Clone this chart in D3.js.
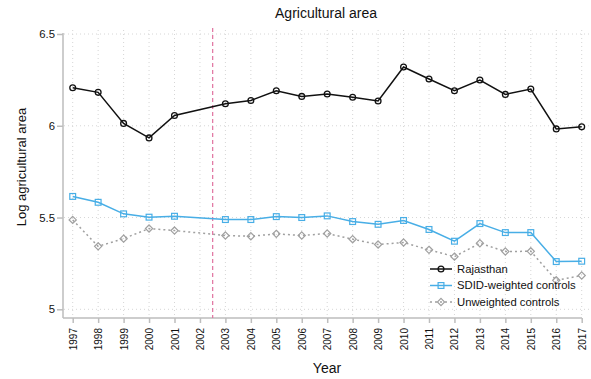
<!DOCTYPE html>
<html>
<head>
<meta charset="utf-8">
<script src="https://cdn.jsdelivr.net/npm/d3@7"></script>
<style>
  body { margin: 0; background: #fff; }
  svg { display: block; font-family: "Liberation Sans", Arial, sans-serif; }
</style>
</head>
<body>
<svg id="chart" width="591" height="379"></svg>
<script>
// Years on the x axis (2002 has no observation)
const years = [1997, 1998, 1999, 2000, 2001, 2002, 2003, 2004, 2005, 2006, 2007,
               2008, 2009, 2010, 2011, 2012, 2013, 2014, 2015, 2016, 2017];
const obsYears = [1997, 1998, 1999, 2000, 2001, 2003, 2004, 2005, 2006, 2007,
                  2008, 2009, 2010, 2011, 2012, 2013, 2014, 2015, 2016, 2017];

const rajasthan = [6.207, 6.182, 6.013, 5.934, 6.056, 6.120, 6.138, 6.191, 6.160, 6.173,
                   6.155, 6.135, 6.320, 6.255, 6.191, 6.249, 6.171, 6.200, 5.983, 5.994];
const sdidControls = [5.615, 5.583, 5.520, 5.502, 5.507, 5.489, 5.489, 5.505, 5.500, 5.509,
                      5.478, 5.463, 5.484, 5.435, 5.371, 5.467, 5.418, 5.418, 5.260, 5.262];
const unweightedControls = [5.487, 5.343, 5.385, 5.440, 5.429, 5.402, 5.398, 5.411, 5.402, 5.413,
                            5.382, 5.353, 5.364, 5.324, 5.287, 5.360, 5.315, 5.316, 5.158, 5.184];

const yTicks = [5, 5.5, 6, 6.5];
const yTickLabels = ["5", "5.5", "6", "6.5"];
const treatmentYear = 2002.5;

const seriesNames = ["Rajasthan", "SDID-weighted controls", "Unweighted controls"];

const svg = d3.select("#chart");

const x = d3.scaleLinear().domain([1997, 2017]).range([72.7, 581.7]);
const y = d3.scaleLinear().domain([5, 6.5]).range([309.3, 34]);

const gridColor = "#d6d6d6";
const axisColor = "#bdbdbd";

// Vertical grid at each year
svg.append("g").selectAll("line").data(years).join("line")
  .attr("x1", d => x(d)).attr("x2", d => x(d))
  .attr("y1", 30).attr("y2", 318)
  .attr("stroke", gridColor).attr("stroke-width", 1)
  .attr("stroke-dasharray", "1,3");

// Horizontal grid at each y tick
svg.append("g").selectAll("line").data(yTicks).join("line")
  .attr("x1", 64).attr("x2", 590)
  .attr("y1", d => y(d)).attr("y2", d => y(d))
  .attr("stroke", gridColor).attr("stroke-width", 1)
  .attr("stroke-dasharray", "1,3");

// Y axis
const yAxis = d3.axisLeft(y).tickValues(yTicks)
  .tickFormat((d, i) => yTickLabels[i]).tickSize(6).tickPadding(2);
const gy = svg.append("g").attr("transform", "translate(63,0)").call(yAxis);
gy.select(".domain").attr("d", `M0,${y(6.5) - 1}V318`).attr("stroke", axisColor).attr("stroke-width", 1.5);
gy.selectAll(".tick line").attr("stroke", axisColor).attr("stroke-width", 1.5);
gy.selectAll(".tick text").attr("font-size", 11.3).attr("fill", "#111")
  .attr("font-family", "Liberation Sans, Arial, sans-serif");

// X axis
const xAxis = d3.axisBottom(x).tickValues(years).tickFormat(d3.format("d"))
  .tickSize(5).tickPadding(3);
const gx = svg.append("g").attr("transform", "translate(0,318)").call(xAxis);
gx.select(".domain").attr("d", "M63,0H582").attr("stroke", axisColor).attr("stroke-width", 1.5);
gx.selectAll(".tick line").attr("stroke", axisColor).attr("stroke-width", 1.5);
gx.selectAll(".tick text")
  .attr("font-size", 10).attr("fill", "#111")
  .attr("font-family", "Liberation Sans, Arial, sans-serif")
  .attr("transform", "rotate(-90)")
  .attr("text-anchor", "end")
  .attr("dy", "0.35em")
  .attr("x", -10).attr("y", 0);

// Treatment line
svg.append("line")
  .attr("x1", x(treatmentYear)).attr("x2", x(treatmentYear))
  .attr("y1", 28).attr("y2", 318)
  .attr("stroke", "#e0729f").attr("stroke-width", 1.2)
  .attr("stroke-dasharray", "4,3");

// Series
const series = [
  { name: seriesNames[0], values: rajasthan, color: "#111", dash: null, marker: "circle", width: 1.5 },
  { name: seriesNames[1], values: sdidControls, color: "#48aee6", dash: null, marker: "square", width: 1.5 },
  { name: seriesNames[2], values: unweightedControls, color: "#a0a0a0", dash: "2,3", marker: "diamond", width: 1.5 }
];

const line = d3.line().x(d => x(d[0])).y(d => y(d[1]));

function drawMarker(g, type, cx, cy, color) {
  if (type === "circle") {
    g.append("circle").attr("cx", cx).attr("cy", cy).attr("r", 2.9)
      .attr("fill", "none").attr("stroke", color).attr("stroke-width", 1.3);
  } else if (type === "square") {
    g.append("rect").attr("x", cx - 2.9).attr("y", cy - 2.9).attr("width", 5.8).attr("height", 5.8)
      .attr("fill", "none").attr("stroke", color).attr("stroke-width", 1.2);
  } else {
    const r = 3.6;
    g.append("path").attr("d", `M${cx},${cy - r}L${cx + r},${cy}L${cx},${cy + r}L${cx - r},${cy}Z`)
      .attr("fill", "none").attr("stroke", color).attr("stroke-width", 1.2);
  }
}

series.slice().reverse().forEach(s => {
  const pts = obsYears.map((yr, i) => [yr, s.values[i]]);
  const g = svg.append("g");
  g.append("path").datum(pts).attr("d", line)
    .attr("fill", "none").attr("stroke", s.color).attr("stroke-width", s.width)
    .attr("stroke-dasharray", s.dash);
  pts.forEach(p => drawMarker(g, s.marker, x(p[0]), y(p[1]), s.color));
});

// Legend
const legend = svg.append("g");
series.forEach((s, i) => {
  const ly = 269 + i * 16.5;
  legend.append("line").attr("x1", 430).attr("x2", 452).attr("y1", ly).attr("y2", ly)
    .attr("stroke", s.color).attr("stroke-width", s.width).attr("stroke-dasharray", s.dash);
  drawMarker(legend, s.marker, 441, ly, s.color);
  legend.append("text").attr("x", 457).attr("y", ly).attr("dy", "0.35em")
    .attr("font-size", 11.3).attr("fill", "#111").text(s.name);
});

// Title and axis labels
svg.append("text").attr("x", 326).attr("y", 18).attr("text-anchor", "middle")
  .attr("font-size", 14).attr("fill", "#111").text("Agricultural area");
svg.append("text").attr("x", 327).attr("y", 373).attr("text-anchor", "middle")
  .attr("font-size", 14).attr("fill", "#111").text("Year");
svg.append("text").attr("transform", "translate(25.5,167) rotate(-90)").attr("text-anchor", "middle")
  .attr("font-size", 13).attr("fill", "#111").text("Log agricultural area");
</script>
</body>
</html>
